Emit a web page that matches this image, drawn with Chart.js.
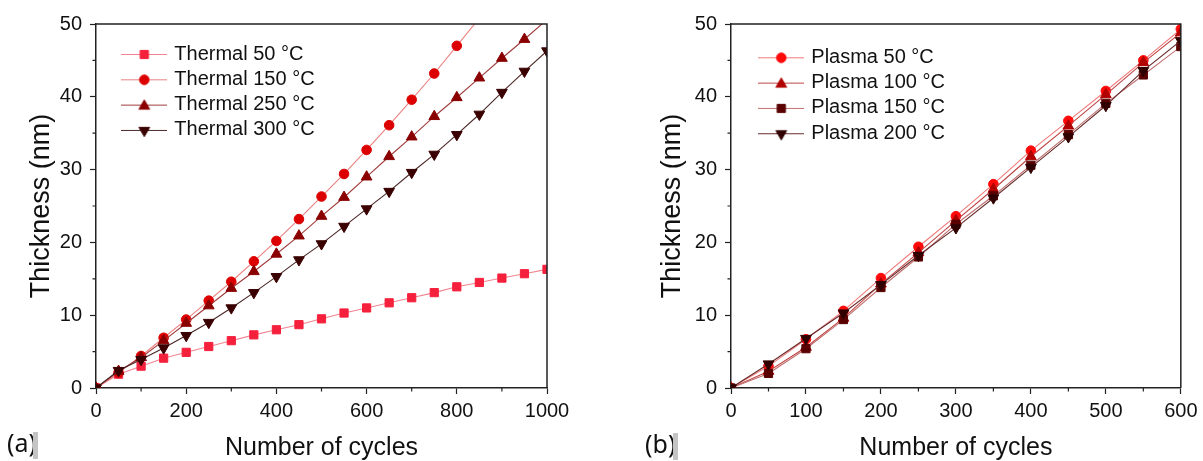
<!DOCTYPE html>
<html><head><meta charset="utf-8">
<script src="https://cdn.jsdelivr.net/npm/chart.js@4.4.0/dist/chart.umd.min.js"></script>
<style>
html,body{margin:0;padding:0;background:#fff;width:1203px;height:461px;overflow:hidden;}
#wa{position:absolute;left:0;top:0;width:600px;height:461px;}
#wb{position:absolute;left:600px;top:0;width:603px;height:461px;}
.lab{position:absolute;font-family:'Noto Sans','Open Sans','Liberation Sans',Arial,sans-serif;font-size:25px;line-height:28px;color:#111;}
.sh{position:absolute;background:#c4c4c4;width:5px;height:27px;}
</style></head><body>
<div id="wa"><canvas id="ca" width="600" height="461"></canvas></div>
<div id="wb"><canvas id="cb" width="603" height="461"></canvas></div>
<div class="lab" style="left:7px;top:428px">(a)</div><div class="sh" style="left:33px;top:432px"></div>
<div class="lab" style="left:645px;top:429px">(b)</div><div class="sh" style="left:673px;top:433px"></div>
<script>
// ---- data ----
const thermalCycles = [0,50,100,150,200,250,300,350,400,450,500,550,600,650,700,750,800,850,900,950,1000];
const thermal50  = [0,1.9,3.0,4.1,4.9,5.7,6.5,7.3,8.0,8.7,9.5,10.3,11.0,11.7,12.4,13.1,13.9,14.5,15.1,15.7,16.3];
const thermal150 = [0,2.1,4.4,6.9,9.4,12.0,14.6,17.4,20.2,23.2,26.3,29.4,32.7,36.1,39.6,43.2,47.0,50.8];
const thermal250 = [0,2.3,4.2,6.5,8.9,11.3,13.7,16.0,18.4,20.9,23.6,26.2,29.0,31.8,34.5,37.3,39.9,42.6,45.3,47.9,50.6];
const thermal300 = [0,2.4,3.9,5.5,7.2,9.0,11.0,13.1,15.3,17.6,19.8,22.2,24.6,27.0,29.6,32.1,34.8,37.6,40.6,43.5,46.3];
const thermalNames = ['Thermal 50 °C','Thermal 150 °C','Thermal 250 °C','Thermal 300 °C'];

const plasmaCycles = [0,50,100,150,200,250,300,350,400,450,500,550,600];
const plasma50  = [0,3.0,6.7,10.6,15.1,19.4,23.6,28.0,32.6,36.7,40.8,45.0,49.3];
const plasma100 = [0,2.3,5.6,9.6,14.3,18.6,23.0,27.3,31.8,36.0,40.3,44.7,48.8];
const plasma150 = [0,2.0,5.4,9.4,13.8,18.0,22.5,26.4,30.6,34.8,39.1,43.0,46.9];
const plasma200 = [0,3.3,6.8,10.3,14.2,18.2,22.0,26.1,30.3,34.5,38.8,43.6,47.7];
const plasmaNames = ['Plasma 50 °C','Plasma 100 °C','Plasma 150 °C','Plasma 200 °C'];

const yTicks = [0,10,20,30,40,50];
const yMinor = [5,15,25,35,45];
const xTicksA = [0,200,400,600,800,1000];
const xTicksB = [0,100,200,300,400,500,600];
const xMinorA = [100,300,500,700,900];
const xMinorB = [50,150,250,350,450,550];

// ---- styles ----
const FONT = "'Liberation Sans', Arial, sans-serif";
Chart.defaults.font.family = FONT;
const AX = '#222';

const stylesA = [
  {marker:'#f5203c', line:'#f08490', ps:'rect', r:5.8, rot:0},
  {marker:'#dc0000', line:'#ec8080', ps:'circle', r:4.8, rot:0},
  {marker:'#8a0000', line:'#a03c3c', ps:'triangle', r:6.2, rot:0},
  {marker:'#3a0000', line:'#4a2626', ps:'triangle', r:6.2, rot:180}
];
const stylesB = [
  {marker:'#ff0a0a', line:'#f07a7a', ps:'circle', r:4.8, rot:0},
  {marker:'#b00000', line:'#c04444', ps:'triangle', r:6.2, rot:0},
  {marker:'#5a0000', line:'#c07070', ps:'rect', r:5.8, rot:0},
  {marker:'#300000', line:'#662c2c', ps:'triangle', r:6.2, rot:180}
];

function icon(s){
  const c = document.createElement('canvas'); c.width = 46; c.height = 16;
  const g = c.getContext('2d');
  g.strokeStyle = s.line; g.lineWidth = 1;
  g.beginPath(); g.moveTo(0,8.5); g.lineTo(46,8.5); g.stroke();
  g.fillStyle = s.marker; g.strokeStyle = s.marker;
  const x = 23, y = 8.5, r = s.r;
  g.beginPath();
  if (s.ps === 'rect') { const h = r*Math.SQRT1_2; g.rect(x-h,y-h,2*h,2*h); }
  else if (s.ps === 'circle') { g.arc(x,y,r,0,Math.PI*2); }
  else {
    const a = s.rot*Math.PI/180;
    for (let k=0;k<3;k++){ const t = a + k*2*Math.PI/3; const px = x + Math.sin(t)*r, py = y - Math.cos(t)*r + (s.rot?0:1); k?g.lineTo(px,py):g.moveTo(px,py); }
    g.closePath();
  }
  g.fill(); g.stroke();
  return c;
}

function makeDatasets(xs, series, names, styles){
  return series.map((vals, i) => ({
    label: names[i],
    data: vals.map((v, j) => ({x: xs[j], y: v})),
    borderColor: styles[i].line,
    backgroundColor: styles[i].marker,
    borderWidth: 1.1,
    pointStyle: styles[i].ps,
    pointRadius: styles[i].r,
    pointRotation: styles[i].rot,
    pointBackgroundColor: styles[i].marker,
    pointBorderColor: styles[i].marker,
    pointBorderWidth: 1,
    pointHoverRadius: styles[i].r,
    tension: 0,
    clip: 0,
    order: series.length - i,
    _icon: icon(styles[i])
  }));
}

const framePlugin = {
  id: 'frame',
  afterDraw(chart, args, o){
    const {ctx, chartArea: a} = chart;
    const xs = chart.scales.x, ys = chart.scales.y;
    ctx.save();
    ctx.strokeStyle = AX; ctx.lineWidth = 1.5;
    ctx.beginPath();
    ctx.moveTo(a.left, a.top); ctx.lineTo(a.right, a.top); ctx.lineTo(a.right, a.bottom);
    ctx.stroke();
    ctx.lineWidth = 1.2;
    ctx.beginPath();
    o.xMinor.forEach(v => { const p = xs.getPixelForValue(v); ctx.moveTo(p, a.bottom); ctx.lineTo(p, a.bottom + 3.5); });
    o.yMinor.forEach(v => { const p = ys.getPixelForValue(v); ctx.moveTo(a.left, p); ctx.lineTo(a.left - 3.5, p); });
    ctx.stroke();
    ctx.restore();
  }
};
const legendPos = {
  id: 'legendPos',
  afterLayout(chart, args, o){
    const lg = chart.legend; if (!lg) return;
    const w = lg.width, h = lg.height;
    lg.left = o.x; lg.right = o.x + w; lg.top = o.y; lg.bottom = o.y + h;
  }
};

function config(datasets, xMax, xTicks, xMinor, yAxisW, padRight, yTitlePad, legX, legY){
  return {
    type: 'line',
    data: { datasets },
    plugins: [framePlugin, legendPos],
    options: {
      responsive: false, animation: false, events: [],
      layout: { padding: { left: 0, top: 24, right: padRight, bottom: 0 } },
      plugins: {
        tooltip: { enabled: false },
        frame: { xMinor, yMinor },
        legendPos: { x: legX, y: legY },
        legend: {
          position: 'chartArea', align: 'start',
          labels: {
            usePointStyle: true, pointStyleWidth: 40, boxHeight: 16, padding: 5.3,
            color: '#111', font: { size: 20, family: FONT },
            sort: (a, b) => a.datasetIndex - b.datasetIndex,
            generateLabels: (chart) => chart.data.datasets.map((d, i) => ({
              text: d.label, pointStyle: d._icon, datasetIndex: i,
              fillStyle: d.backgroundColor, strokeStyle: d.borderColor, lineWidth: 0, hidden: false, fontColor: '#111'
            }))
          }
        }
      },
      scales: {
        x: {
          type: 'linear', min: 0, max: xMax,
          afterFit: s => { s.height = 73; },
          afterBuildTicks: s => { s.ticks = xTicks.map(v => ({value: v})); },
          ticks: { color: '#111', font: { size: 20 }, padding: 5.5, maxRotation: 0, autoSkip: false, callback: v => String(v) },
          grid: { drawOnChartArea: false, drawTicks: true, tickLength: 6, tickColor: AX, tickWidth: 1.2 },
          border: { display: true, color: AX, width: 1.5 },
          title: { display: true, text: 'Number of cycles', color: '#111', font: { size: 25, lineHeight: 1 }, padding: 0 }
        },
        y: {
          type: 'linear', min: 0, max: 50,
          afterFit: s => { s.width = yAxisW; },
          afterBuildTicks: s => { s.ticks = yTicks.map(v => ({value: v})); },
          ticks: { color: '#111', font: { size: 20 }, padding: 8, callback: v => String(v) },
          grid: { drawOnChartArea: false, drawTicks: true, tickLength: 6, tickColor: AX, tickWidth: 1.2 },
          border: { display: true, color: AX, width: 1.5 },
          title: { display: true, text: 'Thickness (nm)', color: '#111', font: { size: 27, lineHeight: 1 }, padding: { top: yTitlePad, bottom: 0 } }
        }
      }
    }
  };
}

new Chart(document.getElementById('ca'), config(
  makeDatasets(thermalCycles, [thermal50, thermal150, thermal250, thermal300], thermalNames, stylesA),
  1000, xTicksA, xMinorA, 96, 53, 28.5, 119, 38.7));
new Chart(document.getElementById('cb'), config(
  makeDatasets(plasmaCycles, [plasma50, plasma100, plasma150, plasma200], plasmaNames, stylesB),
  600, xTicksB, xMinorB, 131, 21, 59.5, 156, 42));
</script>
</body></html>
